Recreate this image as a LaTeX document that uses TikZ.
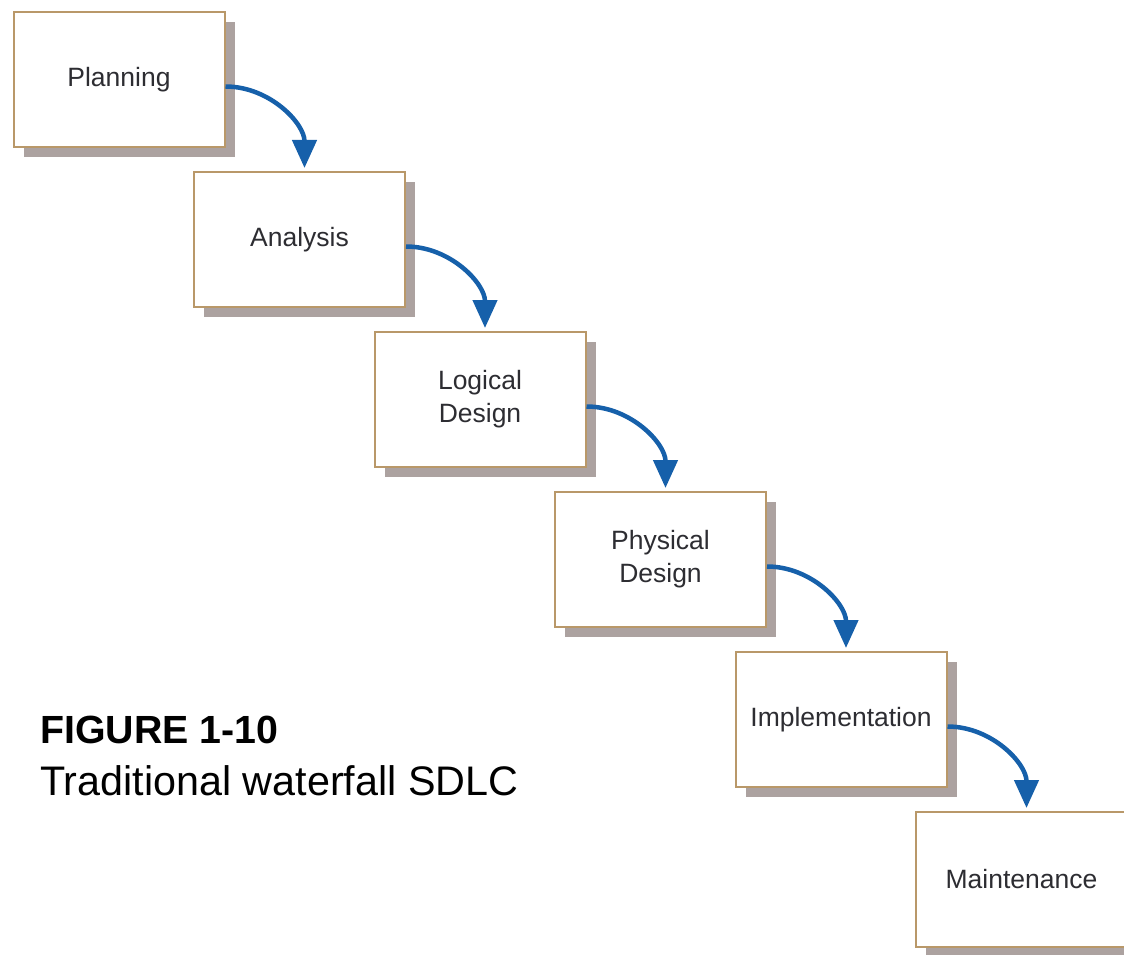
\documentclass[tikz,border=0pt]{standalone}
\usepackage{fontspec}
\setmainfont{Liberation Sans}
\usetikzlibrary{arrows.meta,positioning,shadows}
\definecolor{sdlcblue}{RGB}{22,96,170}
\definecolor{sdlctan}{RGB}{185,152,105}
\definecolor{sdlcshadow}{RGB}{172,162,160}
\definecolor{sdlctext}{RGB}{45,45,50}
\tikzset{
    phase/.style={rectangle, draw=sdlctan, line width=2pt, fill=white, minimum width=211pt, minimum height=135pt, align=center, text=sdlctext, font=\fontsize{26.5}{33}\selectfont, drop shadow={shadow xshift=10pt, shadow yshift=-10pt, fill=sdlcshadow, opacity=1}},
    line/.style={draw=sdlcblue, line width=4.5pt, -{Triangle[width=24pt,length=28pt]}},
    caption/.style={anchor=base west, inner sep=0pt}
}
\begin{document}
\begin{tikzpicture}
    \useasboundingbox (0,0) rectangle (1124pt,-955pt);

    % Waterfall phases
    \node [phase] (plan) at (119pt,-79.5pt) {Planning};
    \node [phase] (analysis) at ([shift={(180.5pt,-160pt)}]plan) {Analysis};
    \node [phase] (logical) at ([shift={(180.5pt,-160pt)}]analysis) {Logical\\Design};
    \node [phase] (physical) at ([shift={(180.5pt,-160pt)}]logical) {Physical\\Design};
    \node [phase] (impl) at ([shift={(180.5pt,-160pt)}]physical) {Implementation};
    \node [phase] (maint) at ([shift={(180.5pt,-160pt)}]impl) {Maintenance};

    % Flow down the steps
    \path [line] ([yshift=-7pt]plan.east) to[out=0,in=90] ([xshift=5pt,yshift=3pt]analysis.north);
    \path [line] ([yshift=-7pt]analysis.east) to[out=0,in=90] ([xshift=5pt,yshift=3pt]logical.north);
    \path [line] ([yshift=-7pt]logical.east) to[out=0,in=90] ([xshift=5pt,yshift=3pt]physical.north);
    \path [line] ([yshift=-7pt]physical.east) to[out=0,in=90] ([xshift=5pt,yshift=3pt]impl.north);
    \path [line] ([yshift=-7pt]impl.east) to[out=0,in=90] ([xshift=5pt,yshift=3pt]maint.north);

    % Caption
    \node [caption] (fignum) at (40pt,-743pt) {\fontsize{39.3}{47}\selectfont\bfseries FIGURE 1-10};
    \node [caption] (figtext) at (40pt,-795pt) {\fontsize{41.3}{48}\selectfont Traditional waterfall SDLC};
\end{tikzpicture}
\end{document}
